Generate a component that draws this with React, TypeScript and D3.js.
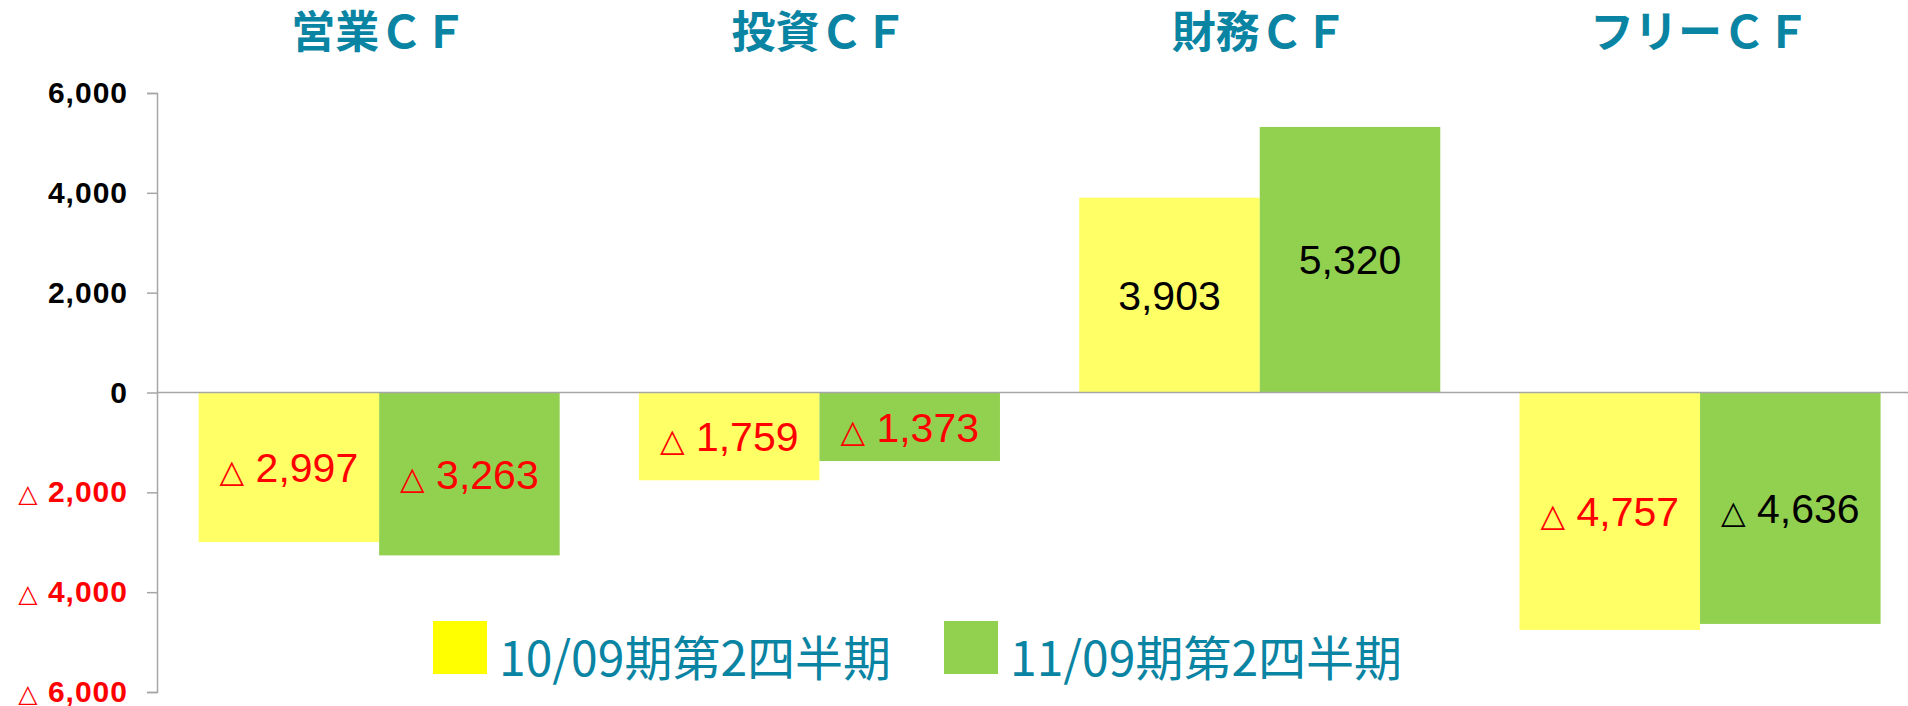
import * as d3 from "d3";
import { useEffect, useRef } from "react";

const WIDTH = 1908;
const HEIGHT = 706;

// data
const categories = ["営業ＣＦ", "投資ＣＦ", "財務ＣＦ", "フリーＣＦ"];
const series = ["10/09期第2四半期", "11/09期第2四半期"];
const values2010 = [-2997, -1759, 3903, -4757];
const values2011 = [-3263, -1373, 5320, -4636];
const yTicks = [-6000, -4000, -2000, 0, 2000, 4000, 6000];

const barColors = ["#FFFF66", "#92D050"];
const legendColors = ["#FFFF00", "#92D050"];
const TEAL = "#0A84A3";
const LATIN = "'Liberation Sans', Arial, sans-serif";
const CJK = "'Noto Sans CJK JP', sans-serif";

const num = d3.format(",");

// negative numbers are written with a small "△" in front
function writeValue(
  sel: d3.Selection<SVGTextElement, any, any, any>,
  v: number,
  triSize: number
) {
  sel.text(null);
  if (v < 0) {
    sel
      .append("tspan")
      .attr("font-family", "'DejaVu Sans', sans-serif")
      .attr("font-weight", 400)
      .attr("font-size", triSize)
      .text("△");
    sel.append("tspan").text("\u00a0" + num(-v));
  } else {
    sel.append("tspan").text(num(v));
  }
}

export default function App() {
  const ref = useRef<SVGSVGElement>(null);

  useEffect(() => {
    const svg = d3.select(ref.current);
    svg.selectAll("*").remove();

    const y = d3.scaleLinear().domain([-6000, 6000]).range([692, 93]);
    const x = d3
      .scaleBand<string>()
      .domain(categories)
      .range([159, 1920.2])
      .paddingInner(0.18)
      .paddingOuter(0.09);
    const xs = d3.scaleBand<string>().domain(series).range([0, x.bandwidth()]);

    const rows = categories.map((c, i) => ({
      category: c,
      values: [values2010[i], values2011[i]],
    }));

    // titles above each group
    svg
      .append("g")
      .selectAll("text")
      .data(categories)
      .join("text")
      .attr("x", (d) => x(d)! + x.bandwidth() / 2)
      .attr("y", 48)
      .attr("text-anchor", "middle")
      .attr("font-family", CJK)
      .attr("font-weight", 700)
      .attr("font-size", 44)
      .attr("fill", TEAL)
      .text((d) => d);

    // bars
    const groups = svg
      .append("g")
      .selectAll("g")
      .data(rows)
      .join("g")
      .attr("transform", (d) => `translate(${x(d.category)},0)`);

    groups
      .selectAll("rect")
      .data((d) => d.values.map((v, j) => ({ v, j, s: series[j] })))
      .join("rect")
      .attr("x", (d) => xs(d.s)!)
      .attr("width", xs.bandwidth())
      .attr("y", (d) => y(Math.max(0, d.v)))
      .attr("height", (d) => Math.abs(y(d.v) - y(0)))
      .attr("fill", (d) => barColors[d.j]);

    // value labels, centred in the bar
    groups
      .selectAll("text")
      .data((d) => d.values.map((v, j) => ({ v, j, s: series[j], c: d.category })))
      .join("text")
      .attr("x", (d) => xs(d.s)! + xs.bandwidth() / 2)
      .attr("y", (d) => (y(d.v) + y(0)) / 2)
      .attr("dy", "0.36em")
      .attr("text-anchor", "middle")
      .attr("font-family", LATIN)
      .attr("font-size", 41)
      .attr("fill", (d) =>
        d.v >= 0 || (d.c === "フリーＣＦ" && d.j === 1) ? "#000000" : "#FF0000"
      )
      .each(function (d) {
        writeValue(d3.select(this), d.v, 32);
      });

    // y axis
    const axis = svg.append("g").attr("transform", "translate(157,0)");
    axis.call(
      d3
        .axisLeft(y)
        .tickValues(yTicks)
        .tickSize(10)
        .tickPadding(19)
        .tickFormat(() => "")
    );
    axis.select(".domain").attr("stroke", "#A6A6A6").attr("stroke-width", 1.5);
    axis.selectAll(".tick line").attr("stroke", "#A6A6A6").attr("stroke-width", 1.5);
    axis
      .selectAll<SVGTextElement, number>(".tick text")
      .attr("font-family", LATIN)
      .attr("font-weight", 700)
      .attr("font-size", 30)
      .attr("letter-spacing", 1)
      .attr("fill", (d) => (d < 0 ? "#FF0000" : "#000000"))
      .each(function (d) {
        writeValue(d3.select(this), d, 25);
      });

    // zero line
    svg
      .append("line")
      .attr("x1", 157)
      .attr("x2", WIDTH)
      .attr("y1", y(0))
      .attr("y2", y(0))
      .attr("stroke", "#A6A6A6")
      .attr("stroke-width", 1.5);

    // legend
    const legendX = [433, 944];
    const legend = svg
      .append("g")
      .selectAll("g")
      .data(series)
      .join("g")
      .attr("transform", (_, i) => `translate(${legendX[i]},621)`);
    legend
      .append("rect")
      .attr("width", 54)
      .attr("height", 53)
      .attr("fill", (_, i) => legendColors[i]);
    legend
      .append("text")
      .attr("x", 66)
      .attr("y", 55)
      .attr("font-family", CJK)
      .attr("font-size", 48)
      .attr("fill", TEAL)
      .text((d) => d);
  }, []);

  return (
    <svg
      ref={ref}
      width={WIDTH}
      height={HEIGHT}
      style={{ position: "absolute", left: 0, top: 0, background: "#fff" }}
    />
  );
}
